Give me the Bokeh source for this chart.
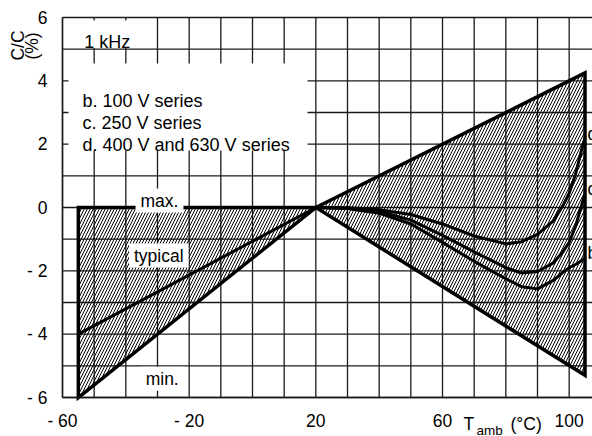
import math
from bokeh.plotting import figure
from bokeh.models import FixedTicker, Label
from bokeh.core.properties import value
from bokeh.embed import file_html
from bokeh.resources import INLINE

FONT = "Liberation Sans"

# ---------------- data ----------------
t_env = [-55, 20, 105]
env_max = [0.0, 0.0, 4.25]
env_min = [-6.0, 0.0, -5.3]

t_typ = [-55, 20]
typ_vals = [-4.0, 0.0]

t_curve = [20, 30, 40, 50, 60, 70, 80, 85, 90, 95, 98, 100, 102, 104, 105]
d_vals = [0, -0.01, -0.07, -0.22, -0.52, -0.9, -1.15, -1.08, -0.85, -0.42, 0.05, 0.45, 1.05, 1.85, 2.2]
c_vals = [0, -0.02, -0.12, -0.40, -0.88, -1.4, -1.9, -2.07, -2.02, -1.75, -1.4, -1.1, -0.6, 0.1, 0.45]
b_vals = [0, -0.03, -0.18, -0.52, -1.10, -1.7, -2.25, -2.5, -2.57, -2.3, -2.05, -1.9, -1.8, -1.67, -1.6]

x_ticks = [-60, -20, 20, 60, 100]
x_tick_labels = ["- 60", "- 20", "20", "60", "100"]
y_ticks = [-6, -4, -2, 0, 2, 4, 6]
y_tick_labels = ["- 6", "- 4", "- 2", "0", "2", "4", "6"]
x_grid = list(range(-60, 111, 10))
y_grid = list(range(-6, 7))

legend_lines = ["b. 100 V series", "c. 250 V series", "d. 400 V and 630 V series"]
series_tags = ["d", "c", "b"]

# ---------------- layout helpers (page pixel -> data) ----------------
W, H = 592, 436
PX = 31.667           # pixels per grid cell (10 degC / 1 %)
X_ORG, Y_ORG = 62, 17  # page position of (-60, 6)
def dx(px):
    return -60 + (px - X_ORG) * 10.0 / PX
def dy(py):
    return 6 - (py - Y_ORG) / PX

p = figure(width=W, height=H, output_backend="svg", toolbar_location=None,
           x_range=(dx(0), dx(W)), y_range=(dy(H), dy(0)),
           min_border=0, min_border_left=0, min_border_right=0,
           min_border_top=0, min_border_bottom=0)
p.outline_line_color = None
p.background_fill_color = "white"
p.border_fill_color = "white"
p.xgrid.visible = False
p.ygrid.visible = False

GRID_C = "#1a1a1a"
# grid
p.segment(x0=x_grid, y0=[y_grid[0]] * len(x_grid), x1=x_grid, y1=[y_grid[-1]] * len(x_grid),
          line_color=GRID_C, line_width=1.3)
p.segment(x0=[x_grid[0]] * len(y_grid), y0=y_grid, x1=[x_grid[-1]] * len(y_grid), y1=y_grid,
          line_color=GRID_C, line_width=1.3)

# axes placed at the chart's own origin
p.xaxis.fixed_location = y_grid[0]
p.xaxis.bounds = (x_grid[0], x_grid[-1])
p.yaxis.fixed_location = x_grid[0]
p.yaxis.bounds = (y_grid[0], y_grid[-1])
p.xaxis.ticker = FixedTicker(ticks=x_ticks)
p.xaxis.major_label_overrides = {t: s for t, s in zip(x_ticks, x_tick_labels)}
p.yaxis.ticker = FixedTicker(ticks=y_ticks)
p.yaxis.major_label_overrides = {t: s for t, s in zip(y_ticks, y_tick_labels)}
for ax in (p.xaxis, p.yaxis):
    ax.major_tick_out = 0
    ax.major_tick_in = 0
    ax.minor_tick_out = 0
    ax.minor_tick_in = 0
    ax.axis_line_color = GRID_C
    ax.axis_line_width = 1.5
    ax.major_label_text_font = FONT
    ax.major_label_text_font_size = "17.5px"
    ax.major_label_text_color = "black"
p.yaxis.major_label_standoff = 15
p.xaxis.major_label_standoff = 13

# white boxes behind the "1 kHz" and legend texts
p.quad(left=[dx(63), dx(68)], right=[dx(136), dx(307)], top=[dy(20), dy(63)], bottom=[dy(47.5), dy(150)],
       fill_color="white", line_color=None)

# hatched envelope (two triangles)
xs = [[t_env[0], t_env[1], t_env[0]], [t_env[1], t_env[2], t_env[2]]]
ys = [[env_max[0], env_max[1], env_min[0]], [env_max[1], env_max[2], env_min[2]]]
p.patches(xs, ys, fill_alpha=0, hatch_pattern="/", hatch_scale=6, hatch_weight=1,
          hatch_color="black", line_color="black", line_width=3.5, line_join="miter")

# typical line + series curves
p.line(t_typ, typ_vals, line_color="black", line_width=3)
for vals in (d_vals, c_vals, b_vals):
    p.line(t_curve, vals, line_color="black", line_width=3, line_join="round")

# region labels with white background
p.text(x=[dx(159), dx(158.3), dx(161.7)], y=[dy(200), dy(255), dy(378.3)],
       text=["max.", "typical", "min."], text_font=value(FONT), text_font_size="17.5px",
       text_align="center", text_baseline="alphabetic", text_color="black",
       background_fill_color="white", padding=[5, 2])

# legend text
p.text(x=[dx(82)] * 3, y=[dy(100.7), dy(122.3), dy(144)], text=legend_lines,
       text_font=value(FONT), text_font_size="18px", text_align="left",
       text_baseline="alphabetic", text_color="black")
p.text(x=[dx(83.7)], y=[dy(41.7)], text=["1 kHz"], text_font=value(FONT),
       text_font_size="18px", text_align="left", text_baseline="alphabetic", text_color="black")

# series tags at the right edge (cut by the canvas edge as in the reference)
p.text(x=[dx(587)] * 3, y=[dy(133), dy(188), dy(252)], text=series_tags,
       text_font=value(FONT), text_font_size="17.5px", text_align="left",
       text_baseline="middle", text_color="black")

# axis titles
p.add_layout(Label(x=dx(17.5), y=dy(45), text="C/C", angle=math.pi / 2, text_align="center",
                   text_baseline="middle", text_font=FONT, text_font_size="17.5px", text_color="black"))
p.add_layout(Label(x=dx(31.3), y=dy(45.5), text="(%)", angle=math.pi / 2, text_align="center",
                   text_baseline="middle", text_font=FONT, text_font_size="17.5px", text_color="black"))
p.add_layout(Label(x=dx(463), y=dy(423.5), text="T", text_align="left", text_baseline="alphabetic",
                   text_font=FONT, text_font_size="17.5px", text_color="black"))
p.add_layout(Label(x=dx(476), y=dy(429.5), text="amb", text_align="left", text_baseline="alphabetic",
                   text_font=FONT, text_font_size="13.5px", text_color="black"))
p.add_layout(Label(x=dx(510), y=dy(423.5), text="(°C)", text_align="left", text_baseline="alphabetic",
                   text_font=FONT, text_font_size="17.5px", text_color="black"))

open("out.html", "w").write(file_html(p, INLINE))
